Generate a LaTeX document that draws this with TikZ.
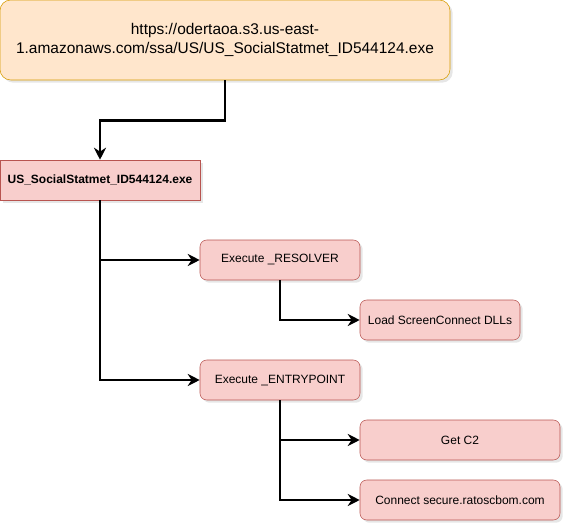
\documentclass[tikz,border=0pt]{standalone}
\usepackage{fontspec}
\setmainfont{Liberation Sans}
\usetikzlibrary{arrows.meta,shadows}
\definecolor{urlfill}{HTML}{FFE6CC}
\definecolor{urldraw}{HTML}{D79B00}
\definecolor{stepfill}{HTML}{F8CECC}
\definecolor{stepdraw}{HTML}{B85450}
\begin{document}
\begin{tikzpicture}[x=0.75pt, y=-0.75pt,
    boxshadow/.style={drop shadow={opacity=0.2, shadow xshift=2pt, shadow yshift=-2pt}},
    urlbox/.style={draw=urldraw, fill=urlfill, rounded corners=8pt, boxshadow,
        minimum width=450*0.75pt, minimum height=80*0.75pt, align=center, font=\fontsize{11.6}{13.8}\selectfont},
    stepbox/.style={draw=stepdraw, fill=stepfill, rounded corners=5pt, boxshadow,
        minimum height=40*0.75pt, font=\fontsize{9}{11}\selectfont},
    flow/.style={line width=2pt, -{Stealth[length=9pt,width=9pt]}}]
    \useasboundingbox (0,0) rectangle (572,532);
    \node[urlbox] (url) at (225,40) {https://odertaoa.s3.us-east-\\1.amazonaws.com/ssa/US/US\_SocialStatmet\_ID544124.exe};
    \node[stepbox, rounded corners=0pt, minimum width=200*0.75pt, font=\fontsize{9}{11}\selectfont\bfseries] (exe) at (100,180) {US\_SocialStatmet\_ID544124.exe};
    \node[stepbox, minimum width=160*0.75pt] (resolver) at (280,260) {Execute \_RESOLVER};
    \node[stepbox, minimum width=160*0.75pt] (dlls) at (440,320) {Load ScreenConnect DLLs};
    \node[stepbox, minimum width=160*0.75pt] (entry) at (280,380) {Execute \_ENTRYPOINT};
    \node[stepbox, minimum width=200*0.75pt] (c2) at (460,440) {Get C2};
    \node[stepbox, minimum width=200*0.75pt] (connect) at (460,500) {Connect secure.ratoscbom.com};

    \draw[flow] (url.south) -- ++(0,40) -| (exe.north);
    \foreach \t in {resolver,entry}
        \draw[flow] (exe.south) |- (\t.west);
    \draw[flow] (resolver.south) |- (dlls.west);
    \foreach \t in {c2,connect}
        \draw[flow] (entry.south) |- (\t.west);
\end{tikzpicture}
\end{document}
